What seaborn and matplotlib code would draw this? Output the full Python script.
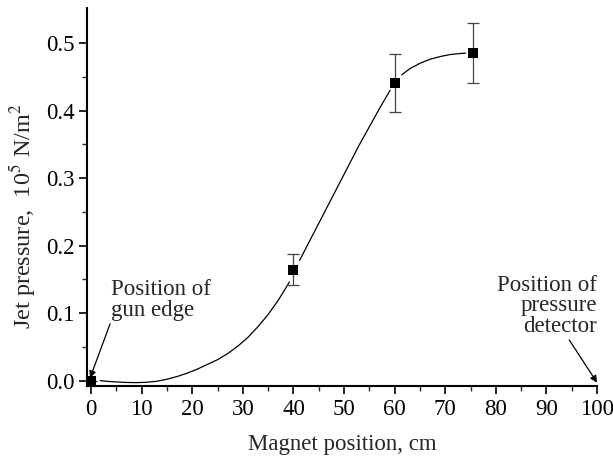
import numpy as np
import pandas as pd
import matplotlib
matplotlib.use('Agg')
import matplotlib.pyplot as plt
import seaborn as sns

# measured points
pos = [0, 40, 60, 75.5]
pressure = [0.0, 0.164, 0.441, 0.485]
err = [0.0, 0.023, 0.043, 0.044]

# fitted curve (three pieces, broken at the markers)
curve_x = [1.8, 3, 5, 7, 9, 11, 13, 15, 17, 19, 21, 23, 25, 27, 29, 31, 33, 35, 37, 39.2,
           41.2, 43, 45, 47, 49, 51, 53, 55, 57, 59.1,
           61.4, 63, 65, 67, 69, 71, 73, 74]
curve_y = [0.000, -0.001, -0.002, -0.0028, -0.003, -0.0025, -0.001, 0.002, 0.006, 0.011,
           0.017, 0.024, 0.031, 0.040, 0.051, 0.064, 0.080, 0.098, 0.119, 0.146,
           0.178, 0.204, 0.233, 0.262, 0.291, 0.320, 0.349, 0.376, 0.403, 0.430,
           0.453, 0.462, 0.470, 0.476, 0.480, 0.483, 0.4845, 0.485]
curve_seg = [0] * 20 + [1] * 10 + [2] * 8

pts = pd.DataFrame({'pos': pos, 'pressure': pressure, 'err': err})
curve = pd.DataFrame({'x': curve_x, 'y': curve_y, 'seg': curve_seg})

sns.set_style('ticks')
plt.rcParams['font.family'] = ['Liberation Serif', 'DejaVu Serif']
plt.rcParams['mathtext.fontset'] = 'stix'

fig = plt.figure(figsize=(6.13, 4.66), dpi=100)
ax = fig.add_axes([0.142, 0.171, 0.832, 0.812])

sns.lineplot(data=curve, x='x', y='y', units='seg', estimator=None,
             color='black', lw=0.9, ax=ax, legend=False)
ax.errorbar(pts['pos'], pts['pressure'], yerr=pts['err'], fmt='none',
            ecolor='#444444', elinewidth=0.9, capsize=4, capthick=0.9)
sns.scatterplot(data=pts, x='pos', y='pressure', marker='s', s=55,
                color='black', edgecolor='black', linewidth=0, ax=ax, zorder=5)

ax.set_xlim(-0.8, 100)
ax.set_ylim(-0.0085, 0.552)
ax.set_xticks(np.arange(0, 101, 10))
ax.set_xticks(np.arange(5, 100, 10), minor=True)
ax.set_yticks([0.0, 0.1, 0.2, 0.3, 0.4, 0.5])
ax.set_yticks([0.05, 0.15, 0.25, 0.35, 0.45], minor=True)
ax.set_yticklabels(['0.0', '0.1', '0.2', '0.3', '0.4', '0.5'])
ax.tick_params(axis='both', which='major', length=6, width=1.2, labelsize=16.5,
               colors='black', pad=3)
ax.tick_params(axis='both', which='minor', length=3.5, width=1.0)
for s in ['left', 'bottom']:
    ax.spines[s].set_linewidth(1.5)
    ax.spines[s].set_color('black')
sns.despine(ax=ax)

ax.set_xlabel('Magnet position, cm', fontsize=16.5, labelpad=10)
ax.set_ylabel(r'Jet pressure,  10$^5$ N/m$^2$', fontsize=17.5)
ax.yaxis.set_label_coords(-0.097, 0.45)

ax.annotate('Position of\ngun edge', xy=(-0.2, 0.004), xytext=(4.0, 0.150),
            fontsize=16.5, ha='left', va='top', linespacing=0.95,
            arrowprops=dict(arrowstyle='-|>', color='black', lw=0.9,
                            mutation_scale=10, shrinkA=0, shrinkB=0,
                            relpos=(0, 0)))
ax.annotate('Position of\npressure\ndetector', xy=(100, -0.003), xytext=(100, 0.156),
            fontsize=16.5, ha='right', va='top', linespacing=0.95,
            arrowprops=dict(arrowstyle='-|>', color='black', lw=0.9,
                            mutation_scale=10, shrinkA=0, shrinkB=0,
                            relpos=(0.7, 0)), annotation_clip=False)

fig.savefig('out.png', dpi=100)
